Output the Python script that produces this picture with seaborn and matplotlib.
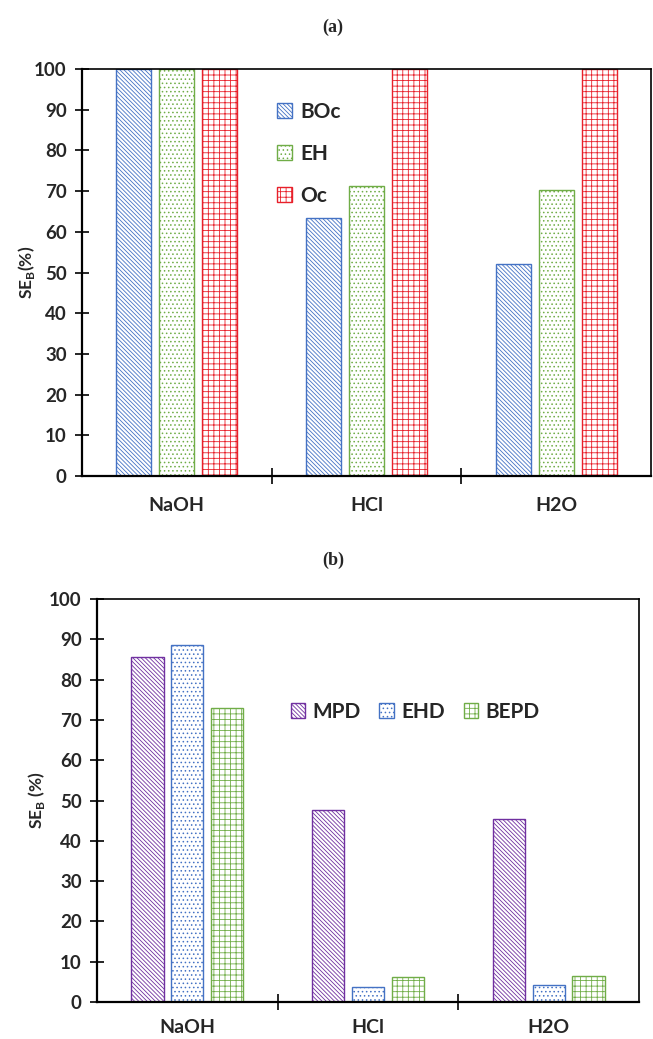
import pandas as pd
import matplotlib.pyplot as plt
from matplotlib.patches import Patch
import seaborn as sns

solvents = ['NaOH', 'HCl', 'H2O']

series_a = ['BOc', 'EH', 'Oc']
boc = [100, 63.5, 52.0]
eh = [100, 71.2, 70.3]
oc = [100, 100, 100]

series_b = ['MPD', 'EHD', 'BEPD']
mpd = [85.5, 47.7, 45.3]
ehd = [88.5, 3.7, 4.2]
bepd = [73.0, 6.3, 6.5]

sns.set_style('ticks')
plt.rcParams['font.family'] = ['Lato', 'DejaVu Sans']
plt.rcParams['mathtext.fontset'] = 'custom'
plt.rcParams['mathtext.rm'] = 'Lato'
plt.rcParams['mathtext.bf'] = 'Lato:bold'
plt.rcParams['hatch.linewidth'] = 0.6

diag = '\\' * 8
dots = '....'
brick = '+++'


def long_df(names, values):
    rows = []
    for name, vals in zip(names, values):
        for s, v in zip(solvents, vals):
            rows.append({'solvent': s, 'series': name, 'value': v})
    return pd.DataFrame(rows)


def draw(ax, df, names, colors, hatches, width, xpad):
    sns.barplot(data=df, x='solvent', y='value', hue='series', order=solvents,
                hue_order=names, width=width, gap=0.19, ax=ax, legend=False)
    for cont, col, h in zip(ax.containers, colors, hatches):
        for bar in cont:
            bar.set_facecolor('white')
            bar.set_edgecolor(col)
            bar.set_hatch(h)
            bar.set_linewidth(1.0)
    ax.set_xlim(-0.5, 2.5)
    ax.set_ylim(0, 100)
    ax.set_yticks(range(0, 101, 10))
    ax.set_xlabel('')
    ax.set_xticks([0.5, 1.5], minor=True)
    ax.tick_params(axis='x', which='major', length=0, pad=xpad, labelsize=14)
    ax.tick_params(axis='x', which='minor', direction='inout', length=12, width=1.4)
    ax.tick_params(axis='y', direction='inout', length=10, width=1.4, labelsize=13.5, pad=6)
    for lab in ax.get_xticklabels() + ax.get_yticklabels():
        lab.set_fontweight('bold')
    for name, sp in ax.spines.items():
        sp.set_visible(True)
        sp.set_color('black')
        sp.set_linewidth(1.6 if name in ('left', 'bottom') else 1.2)
    handles = [Patch(facecolor='white', edgecolor=c, hatch=h, label=n)
               for n, c, h in zip(names, colors, hatches)]
    return handles


fig = plt.figure(figsize=(6.53, 10.39), dpi=100)

# panel (a)
ax1 = fig.add_axes([82 / 653, 1 - 476 / 1039, 569 / 653, 407 / 1039])
h1 = draw(ax1, long_df(series_a, [boc, eh, oc]), series_a,
          ['#4472C4', '#70AD47', '#E8202A'], [diag, dots, brick], 0.68, 15)
ax1.set_ylabel(r'SE$_\mathbf{B}$(%)', fontsize=12.5, fontweight='bold')
ax1.yaxis.set_label_coords(-0.079, 0.5)
ax1.legend(handles=h1, loc='upper left', bbox_to_anchor=(0.31, 0.965), frameon=False,
           prop={'weight': 'bold', 'size': 15}, handlelength=0.7, handleheight=0.7,
           handletextpad=0.4, labelspacing=1.05)

# panel (b)
ax2 = fig.add_axes([97 / 653, 1 - 1002 / 1039, 542 / 653, 403 / 1039])
h2 = draw(ax2, long_df(series_b, [mpd, ehd, bepd]), series_b,
          ['#7030A0', '#4472C4', '#70AD47'], [diag, dots, brick], 0.66, 12)
ax2.set_ylabel(r'SE$_\mathbf{B}$ (%)', fontsize=12.5, fontweight='bold')
ax2.yaxis.set_label_coords(-0.092, 0.5)
ax2.legend(handles=h2, loc='center', bbox_to_anchor=(0.587, 0.72), frameon=False, ncol=3,
           prop={'weight': 'bold', 'size': 15}, handlelength=0.7, handleheight=0.7,
           handletextpad=0.35, columnspacing=0.9)

fig.text(333 / 653, 1 - 27 / 1039, '(a)', ha='center', va='center', fontsize=13,
         fontweight='bold', family='Liberation Serif')
fig.text(333 / 653, 1 - 560 / 1039, '(b)', ha='center', va='center', fontsize=13,
         fontweight='bold', family='Liberation Serif')

fig.savefig('out.png', dpi=100)
